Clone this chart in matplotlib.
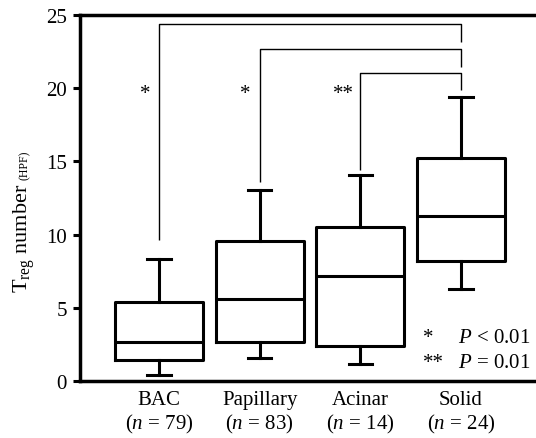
import matplotlib
matplotlib.use('Agg')
import matplotlib.pyplot as plt

# ---- data ----
categories = ['BAC', 'Papillary', 'Acinar', 'Solid']
n_values = [79, 83, 14, 24]
whisker_low = [0.43, 1.57, 1.18, 6.26]
q1 = [1.46, 2.64, 2.37, 8.22]
median = [2.64, 5.62, 7.17, 11.25]
q3 = [5.42, 9.54, 10.54, 15.23]
whisker_high = [8.33, 13.05, 14.09, 19.42]
y_ticks = [0, 5, 10, 15, 20, 25]

# significance brackets: each group compared with 'Solid'
comp_groups = [0, 1, 2]
comp_labels = ['*', '*', '**']
comp_top = [24.41, 22.68, 21.04]
comp_left_bottom = [9.65, 13.6, 14.43]
comp_right_bottom = [23.18, 21.43, 19.9]
legend_rows = [('*', '$P$ < 0.01'), ('**', '$P$ = 0.01')]

plt.rcParams['font.family'] = ['Liberation Serif', 'DejaVu Serif']
plt.rcParams['mathtext.fontset'] = 'custom'
plt.rcParams['mathtext.rm'] = 'Liberation Serif'
plt.rcParams['mathtext.it'] = 'Liberation Serif:italic'

W, H = 536, 439
fig = plt.figure(figsize=(W / 100, H / 100), dpi=100)
ax = fig.add_axes([80 / W, 1 - 382 / H, 456 / W, 366 / H])

positions = list(range(1, len(categories) + 1))
stats = []
for i, c in enumerate(categories):
    stats.append(dict(label=c, whislo=whisker_low[i], q1=q1[i], med=median[i],
                      q3=q3[i], whishi=whisker_high[i], fliers=[]))

lw = 2.2
ax.bxp(stats, positions=positions, widths=0.875, capwidths=0.23,
       showfliers=False,
       boxprops=dict(color='black', linewidth=lw),
       medianprops=dict(color='black', linewidth=lw),
       whiskerprops=dict(color='black', linewidth=lw),
       capprops=dict(color='black', linewidth=lw))

ax.set_xlim(0.215, 4.745)
ax.set_ylim(0, 25)
ax.set_yticks(y_ticks)
ax.set_xticks(positions)
ax.set_xticklabels([f'{c}\n($n$ = {n})' for c, n in zip(categories, n_values)],
                   fontsize=15, linespacing=1.15)
ax.tick_params(axis='x', length=0, pad=6.5)
ax.tick_params(axis='y', length=5, width=2.2, pad=4.3, labelsize=15, direction='out')

for s in ['left', 'top', 'bottom']:
    ax.spines[s].set_linewidth(2.5)
ax.spines['right'].set_visible(False)

# brackets
solid_pos = positions[-1]
for g, lab, top, lb, rb in zip(comp_groups, comp_labels, comp_top,
                               comp_left_bottom, comp_right_bottom):
    xp = positions[g]
    ax.plot([xp, xp, solid_pos, solid_pos], [lb, top, top, rb],
            color='black', linewidth=1.0, solid_capstyle='butt', clip_on=False)
    off = 0.14 if lab == '*' else 0.17
    ax.text(xp - off, 19.3, lab, ha='center', va='baseline', fontsize=15)

# legend text
for (star, txt), yb in zip(legend_rows, [0.1066, 0.038]):
    ax.text(0.752, yb, star, transform=ax.transAxes, ha='left', va='baseline', fontsize=15)
    ax.text(0.829, yb, txt, transform=ax.transAxes, ha='left', va='baseline', fontsize=15)

# y label: main part + small (HPF)
t1 = fig.text(28 / W, 1 - 293 / H, r'T$_{\mathrm{reg}}$ number', rotation=90,
              rotation_mode='anchor', ha='left', va='baseline', fontsize=16)
fig.canvas.draw()
bb = t1.get_window_extent()
fig.text(28 / W, (bb.y1 + 4) / H, '(HPF)', rotation=90, rotation_mode='anchor',
         ha='left', va='baseline', fontsize=8.5)

fig.savefig('out.png', dpi=100)
